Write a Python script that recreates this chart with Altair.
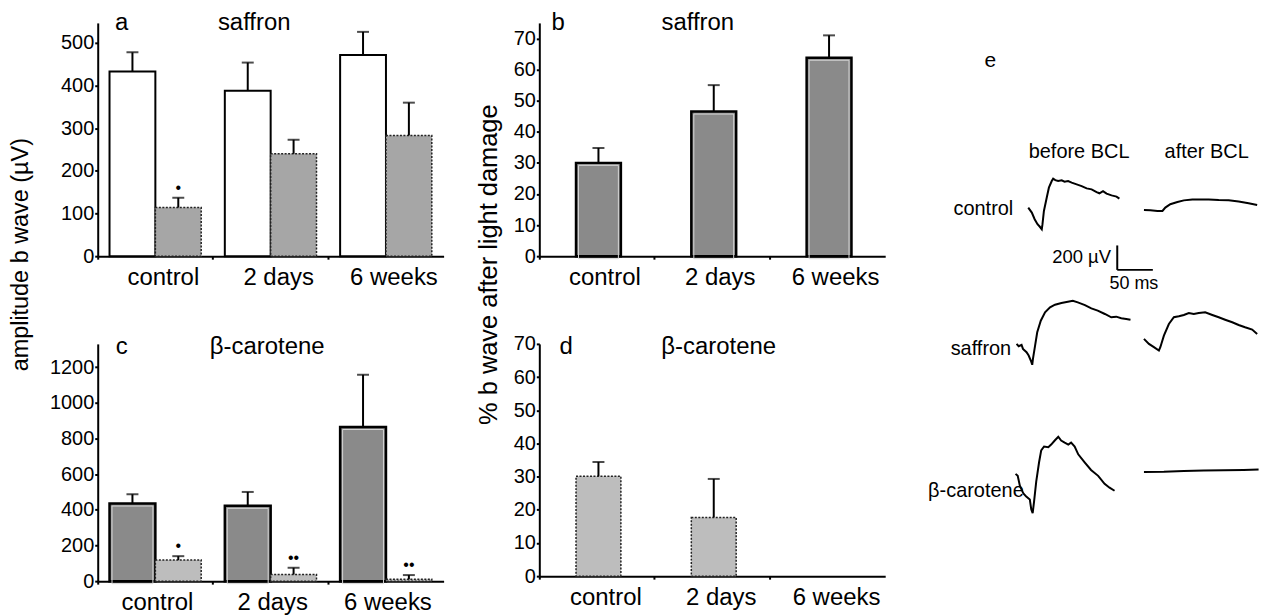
import altair as alt
import pandas as pd

FONT = "Liberation Sans"
groups = ["control", "2 days", "6 weeks"]
conds = ["before", "after"]

# ---- panel a: saffron, amplitude b wave (µV) ----
sa_amp_before = [433, 388, 472]
sa_amp_before_sem = [45, 66, 54]
sa_amp_after = [114, 240, 283]
sa_amp_after_sem = [23, 33, 77]
sa_amp_sig = ["•", "", ""]

# ---- panel b: saffron, % b wave after light damage ----
sa_pct = [30.0, 46.5, 63.8]
sa_pct_sem = [4.8, 8.5, 7.2]

# ---- panel c: beta-carotene, amplitude b wave (µV) ----
bc_amp_before = [435, 422, 864]
bc_amp_before_sem = [52, 78, 293]
bc_amp_after = [118, 37, 10]
bc_amp_after_sem = [22, 38, 24]
bc_amp_sig = ["•", "••", "••"]

# ---- panel d: beta-carotene, % b wave after light damage ----
bc_pct = [30.1, 17.7, 0.0]
bc_pct_sem = [4.3, 11.6, 0.0]

# ---- panel e: ERG traces, time (ms) from trace start, amplitude (µV) ----
ctl_before_t = [0, 5, 9, 13, 16, 19, 20, 22, 26, 29, 33, 35, 38, 42, 47, 51, 56, 61, 68, 75, 82, 89, 96, 100, 105, 110, 117, 124, 128]
ctl_before_v = [0, -41, -95, -136, -155, -177, -136, -28, 82, 163, 217, 237, 225, 217, 223, 212, 217, 204, 190, 176, 157, 149, 127, 117, 135, 114, 100, 90, 73]
ctl_after_t = [0, 9, 19, 26, 30, 37, 47, 56, 68, 79, 91, 105, 119, 133, 147, 159]
ctl_after_v = [0, -2, -8, -8, 20, 47, 65, 79, 87, 87, 87, 82, 79, 69, 55, 41]
saf_before_t = [0, 3, 7, 9, 14, 17, 20, 22, 23, 26, 29, 34, 40, 47, 54, 63, 72, 79, 86, 96, 105, 114, 124, 133, 140, 147, 154, 160]
saf_before_v = [0, -19, -8, -41, -68, -95, -136, -171, -122, -14, 95, 190, 259, 299, 321, 335, 345, 353, 340, 318, 291, 272, 245, 218, 223, 210, 204, 198]
saf_after_t = [0, 7, 14, 21, 23, 28, 35, 42, 49, 56, 63, 70, 77, 86, 96, 105, 114, 124, 133, 142, 152, 159]
saf_after_v = [0, -41, -68, -95, -68, 27, 122, 177, 185, 196, 212, 204, 212, 218, 196, 177, 157, 136, 114, 95, 76, 41]
bc_before_t = [0, 3, 6, 11, 15, 20, 22, 24, 26, 29, 33, 36, 40, 46, 50, 55, 60, 64, 69, 74, 78, 83, 88, 97, 106, 116, 125, 132, 139]
bc_before_v = [0, -16, -96, -161, -186, -209, -289, -321, -226, -64, 95, 192, 224, 218, 240, 273, 304, 273, 256, 240, 256, 224, 160, 95, 32, -16, -81, -113, -138]
bc_after_t = [0, 28, 56, 84, 112, 140, 161]
bc_after_v = [0, 2, 8, 12, 14, 16, 20]

scale_bar_uV = 200
scale_bar_ms = 50

# layout of the traces inside panel e (ms, µV)
trace_layout = {
    "control before": (66.5, 3058),
    "control after": (229, 3038),
    "saffron before": (50.1, 1942),
    "saffron after": (229, 1983),
    "bc before": (48.7, 878),
    "bc after": (229, 894),
}
traces = {
    "control before": (ctl_before_t, ctl_before_v),
    "control after": (ctl_after_t, ctl_after_v),
    "saffron before": (saf_before_t, saf_before_v),
    "saffron after": (saf_after_t, saf_after_v),
    "bc before": (bc_before_t, bc_before_v),
    "bc after": (bc_after_t, bc_after_v),
}

PANEL_W = 347
ROW1_H = 234

WHITE_BAR = dict(fill="white", stroke="black", strokeWidth=2)
GRAY_BAR = dict(fill="#8a8a8a", stroke="black", strokeWidth=2.5)
XHATCH_BAR = dict(fill="#a6a6a6", stroke="#222222", strokeWidth=1.5, strokeDash=[2, 1.5])
DHATCH_BAR = dict(fill="#bdbdbd", stroke="#222222", strokeWidth=1.5, strokeDash=[2, 1.5])
INNER_LINE = dict(fillOpacity=0, stroke="#d4d4d4", strokeWidth=1, yOffset=2.5, y2Offset=-2.5)


def x_enc(label_offset):
    return alt.X(
        "group:N",
        sort=groups,
        scale=alt.Scale(domain=groups, paddingInner=0, paddingOuter=0),
        axis=alt.Axis(
            title=None, labelAngle=0, bandPosition=0, labelOffset=label_offset,
            tickSize=3, tickWidth=2, labelPadding=6, labelFontSize=24,
            domainWidth=2, labelAlign="center",
        ),
    )


def y_enc(field, ymax, ticks, axis_kw):
    return alt.Y(
        field,
        type="quantitative",
        scale=alt.Scale(domain=[0, ymax], nice=False, zero=True),
        axis=alt.Axis(
            values=ticks, format="d", grid=False, tickSize=3, labelPadding=1,
            labelFontSize=20, domainWidth=2, tickWidth=2, **axis_kw
        ),
    )


def label(text, px, py, size=24, align="center", baseline="alphabetic"):
    return alt.Chart(alt.Data(values=[{}])).mark_text(
        text=text, fontSize=size, align=align, baseline=baseline, color="black"
    ).encode(x=alt.value(px), y=alt.value(py))


def grouped_panel(before, bsem, after, asem, sig, ymax, ticks, before_style, after_style,
                  inner, letter, letter_xy, title, title_xy, label_offset, height, axis_kw):
    df = pd.DataFrame({
        "group": groups * 2,
        "cond": ["before"] * 3 + ["after"] * 3,
        "value": before + after,
        "top": [v + e for v, e in zip(before, bsem)] + [v + e for v, e in zip(after, asem)],
        "sig": [""] * 3 + sig,
    })
    base = alt.Chart(df)
    X = x_enc(label_offset)
    XO = alt.XOffset("cond:N", sort=conds,
                     scale=alt.Scale(domain=conds, paddingInner=0, paddingOuter=0.2576))
    Yv = y_enc("value", ymax, ticks, axis_kw)
    Yt = y_enc("top", ymax, ticks, axis_kw)
    before_src = base.transform_filter("datum.cond == 'before'")
    layers = [
        before_src.mark_bar(**before_style).encode(x=X, xOffset=XO, y=Yv),
        base.transform_filter("datum.cond == 'after'").mark_bar(**after_style).encode(x=X, xOffset=XO, y=Yv),
    ]
    if inner:
        layers.append(before_src.mark_bar(width=41, **INNER_LINE).encode(x=X, xOffset=XO, y=Yv))
    layers += [
        base.mark_rule(color="black", strokeWidth=2).encode(x=X, xOffset=XO, y=Yv, y2="top:Q"),
        base.mark_tick(color="black", thickness=2, size=12).encode(x=X, xOffset=XO, y=Yt),
        base.transform_filter("datum.sig != ''").mark_text(
            dy=-10, fontSize=16, color="black", baseline="middle"
        ).encode(x=X, xOffset=XO, y=Yt, text="sig:N"),
        label(letter, *letter_xy),
        label(title, *title_xy),
    ]
    return alt.layer(*layers).properties(width=PANEL_W, height=height)


def single_panel(vals, sem, ymax, ticks, style, inner, letter, letter_xy, title, title_xy,
                 label_offset, height, axis_kw):
    df = pd.DataFrame({
        "group": groups,
        "value": vals,
        "top": [v + e for v, e in zip(vals, sem)],
    })
    base = alt.Chart(df).transform_filter("datum.value > 0")
    X = x_enc(label_offset)
    Yv = y_enc("value", ymax, ticks, axis_kw)
    Yt = y_enc("top", ymax, ticks, axis_kw)
    layers = [base.mark_bar(width=45, xOffset=1.5, **style).encode(x=X, y=Yv)]
    if inner:
        layers.append(base.mark_bar(width=40, xOffset=1.5, **INNER_LINE).encode(x=X, y=Yv))
    layers += [
        base.mark_rule(color="black", strokeWidth=2, xOffset=1.5).encode(x=X, y=Yv, y2="top:Q"),
        base.mark_tick(color="black", thickness=2, size=12, xOffset=1.5).encode(x=X, y=Yt),
        label(letter, *letter_xy),
        label(title, *title_xy),
    ]
    return alt.layer(*layers).properties(width=PANEL_W, height=height)


panel_a = grouped_panel(
    sa_amp_before, sa_amp_before_sem, sa_amp_after, sa_amp_after_sem, sa_amp_sig,
    547, [0, 100, 200, 300, 400, 500], WHITE_BAR, XHATCH_BAR, False,
    "a", (24, 7), "saffron", (157, 7), 8, ROW1_H,
    dict(title="amplitude b wave (µV)", titleFontSize=23.5, titleFontWeight="normal",
         titleX=-65.5, titleY=232),
)
panel_c = grouped_panel(
    bc_amp_before, bc_amp_before_sem, bc_amp_after, bc_amp_after_sem, bc_amp_sig,
    1330, [0, 200, 400, 600, 800, 1000, 1200], GRAY_BAR, DHATCH_BAR, True,
    "c", (24, 10), "β-carotene", (170, 10), 2, 238,
    dict(title=None),
)
panel_b = single_panel(
    sa_pct, sa_pct_sem, 75, [0, 10, 20, 30, 40, 50, 60, 70], GRAY_BAR, True,
    "b", (19, 7), "saffron", (159, 7), 8, ROW1_H,
    dict(title="% b wave after light damage", titleFontSize=25.5, titleFontWeight="normal",
         titleX=-37.5, titleY=242),
)
panel_d = single_panel(
    bc_pct, bc_pct_sem, 70, [0, 10, 20, 30, 40, 50, 60, 70], DHATCH_BAR, False,
    "d", (27, 10), "β-carotene", (180, 10), 9, 233,
    dict(title=None),
)

# ---- panel e ----
E_W, E_FULL_H = 279, 560
Y_TOP = E_FULL_H * 8.16
XS = alt.Scale(domain=[0, E_W * 1.4], nice=False, zero=False)
YS = alt.Scale(domain=[Y_TOP - ROW1_H * 8.16, Y_TOP], nice=False, zero=False)
rows = []
for name, (ts, vs) in traces.items():
    x0, y0 = trace_layout[name]
    for i, (t, v) in enumerate(zip(ts, vs)):
        rows.append({"trace": name, "i": i, "x": x0 + t, "y": y0 + v})
tdf = pd.DataFrame(rows)
lines = alt.Chart(tdf).mark_line(color="black", strokeWidth=2).encode(
    x=alt.X("x:Q", scale=XS, axis=None),
    y=alt.Y("y:Q", scale=YS, axis=None),
    detail="trace:N",
    order="i:Q",
)
sb_x, sb_y = 191.5, 2548
sbdf = pd.DataFrame({
    "x": [sb_x, sb_x], "y": [sb_y, sb_y],
    "xe": [sb_x, sb_x + scale_bar_ms], "ye": [sb_y + scale_bar_uV, sb_y],
})
sbar = alt.Chart(sbdf).mark_rule(color="black", strokeWidth=2).encode(
    x=alt.X("x:Q", scale=XS, axis=None), x2="xe:Q",
    y=alt.Y("y:Q", scale=YS, axis=None), y2="ye:Q",
)
e_labels = [
    label("e", 9.5, 38, 21, baseline="middle"),
    label("before BCL", 98.5, 130, 20, baseline="middle"),
    label("after BCL", 226.5, 130, 20, baseline="middle"),
    label("control", 2.5, 187, 20, baseline="middle"),
    label("saffron", 0, 327, 20, baseline="middle"),
    label("β-carotene", -5, 470, 20, baseline="middle"),
    label("200 µV", 130.5, 235, 18.5, align="right", baseline="middle"),
    label("50 ms", 153.5, 262, 18, baseline="middle"),
]
panel_e = alt.layer(lines, sbar, *e_labels).properties(width=E_W, height=ROW1_H)

chart = (
    alt.concat(panel_a, panel_b, panel_e, panel_c, panel_d, columns=3,
               spacing={"row": 88, "column": 96}, bounds="flush")
    .properties(padding={"left": 0, "top": 2, "right": 0, "bottom": 0})
    .configure_view(stroke=None)
    .configure_axis(labelFont=FONT, titleFont=FONT, labelColor="black", titleColor="black",
                    domainColor="black", tickColor="black")
    .configure_text(font=FONT, color="black")
)
chart.save("out.html", embed_options={"renderer": "svg", "actions": False})
